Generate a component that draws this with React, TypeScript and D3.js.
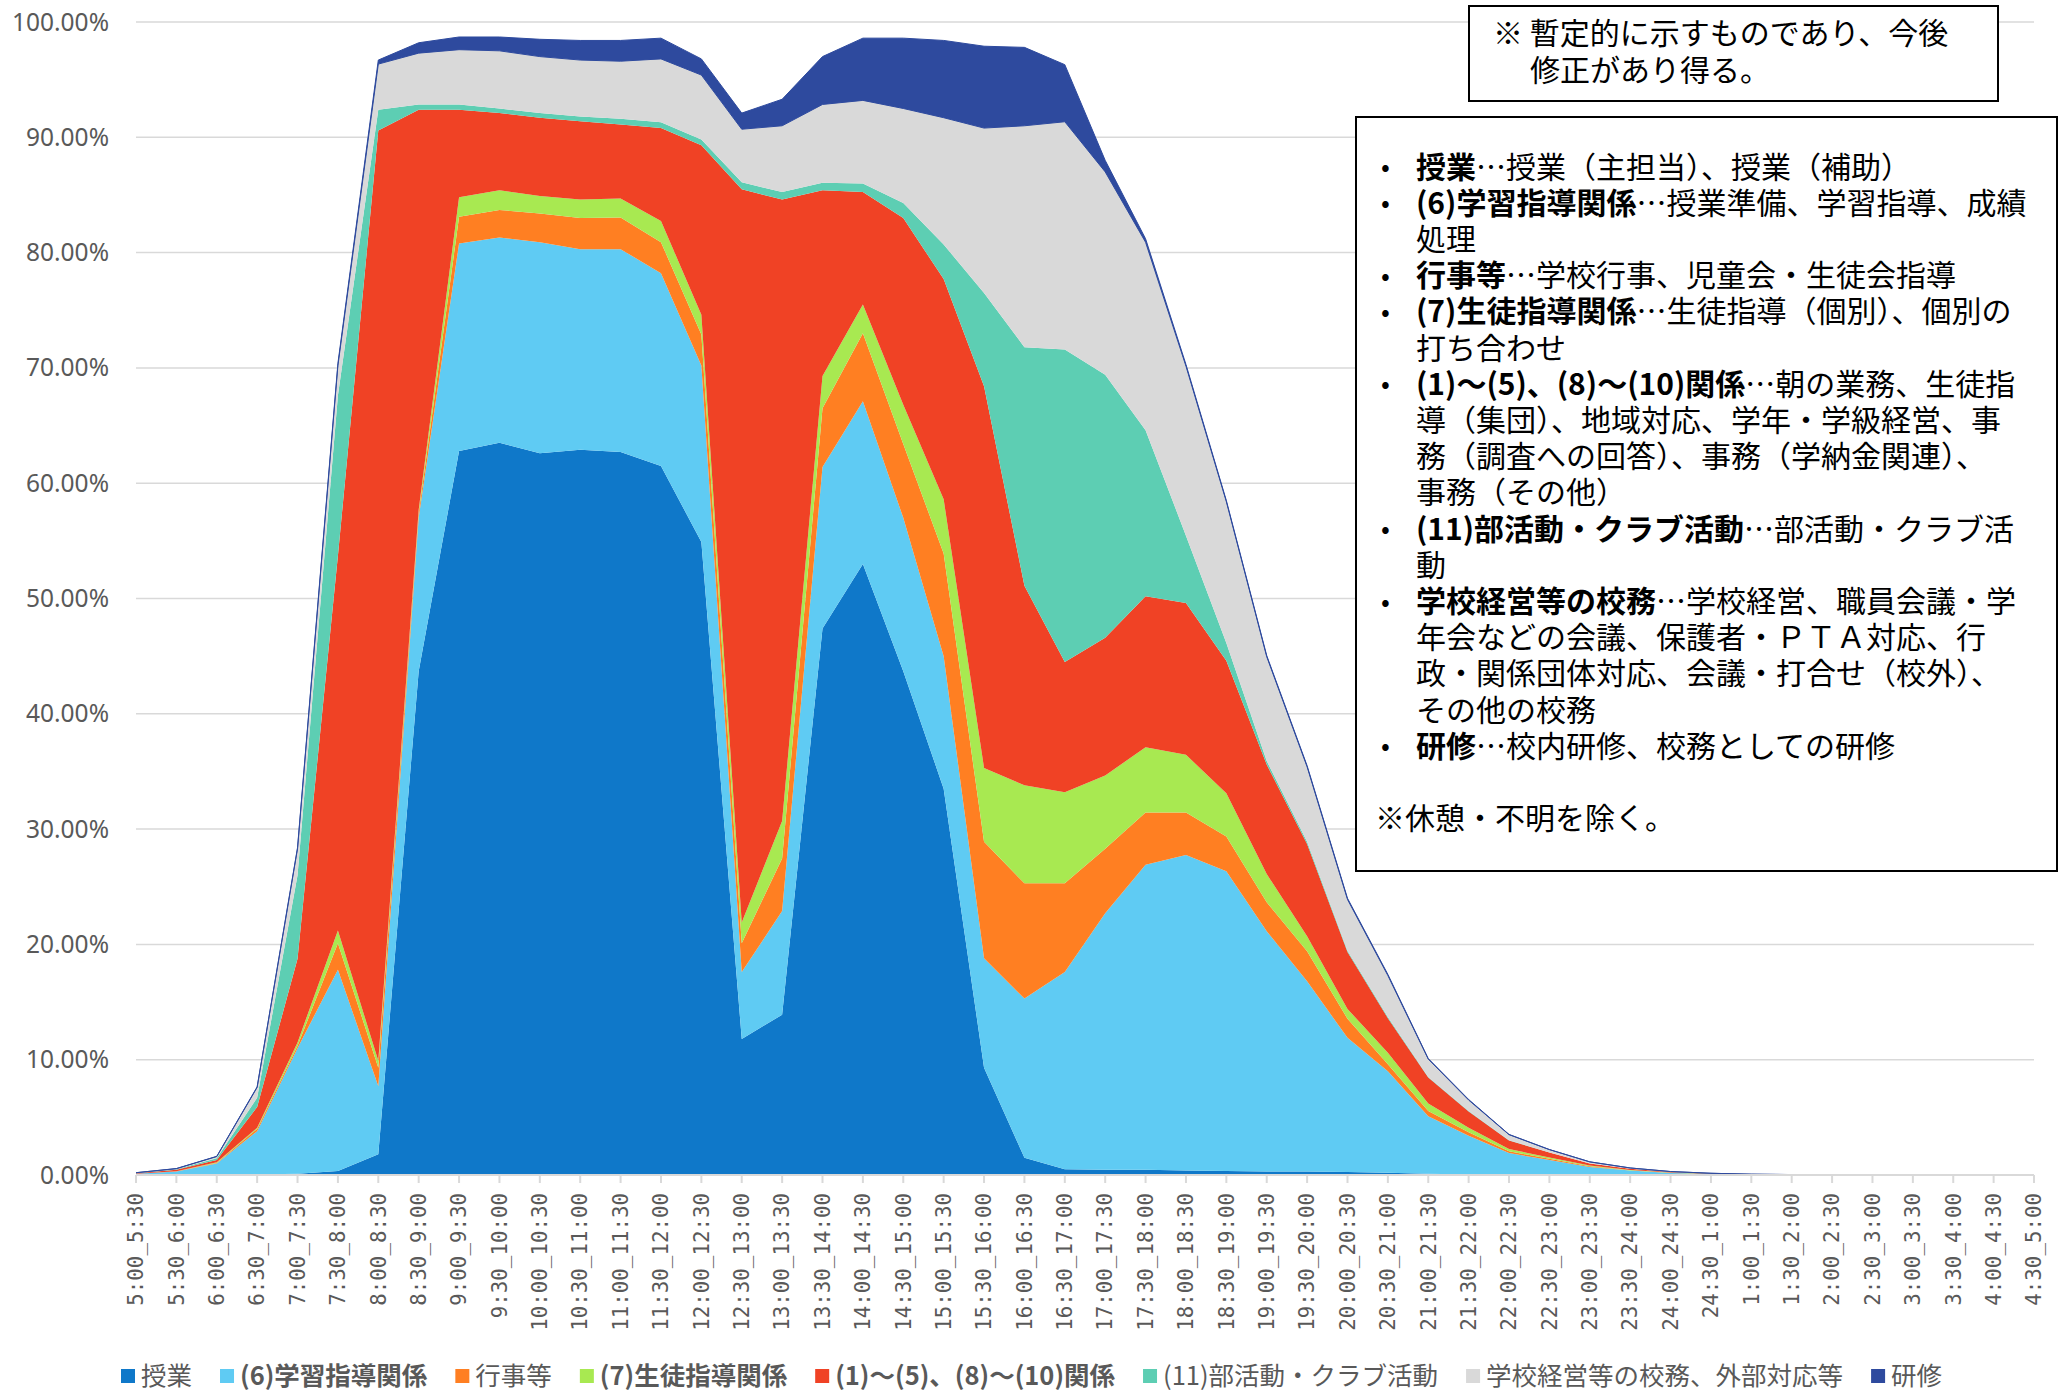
import React, { useEffect, useRef } from 'react';
import * as d3 from 'd3';

const timeSlots = [
  '5:00_5:30', '5:30_6:00', '6:00_6:30', '6:30_7:00', '7:00_7:30', '7:30_8:00',
  '8:00_8:30', '8:30_9:00', '9:00_9:30', '9:30_10:00', '10:00_10:30', '10:30_11:00',
  '11:00_11:30', '11:30_12:00', '12:00_12:30', '12:30_13:00', '13:00_13:30', '13:30_14:00',
  '14:00_14:30', '14:30_15:00', '15:00_15:30', '15:30_16:00', '16:00_16:30', '16:30_17:00',
  '17:00_17:30', '17:30_18:00', '18:00_18:30', '18:30_19:00', '19:00_19:30', '19:30_20:00',
  '20:00_20:30', '20:30_21:00', '21:00_21:30', '21:30_22:00', '22:00_22:30', '22:30_23:00',
  '23:00_23:30', '23:30_24:00', '24:00_24:30', '24:30_1:00', '1:00_1:30', '1:30_2:00',
  '2:00_2:30', '2:30_3:00', '3:00_3:30', '3:30_4:00', '4:00_4:30', '4:30_5:00'
];

// percentages per time slot
const jugyo = [0, 0, 0.02, 0.05, 0.1, 0.35, 1.8, 43.7, 62.8, 63.5, 62.6, 62.9, 62.7, 61.5, 54.9, 11.8, 13.9, 47.4, 53.0, 43.7, 33.5, 9.3, 1.5, 0.5, 0.45, 0.45, 0.4, 0.35, 0.3, 0.3, 0.25, 0.2, 0.1, 0.05, 0.02, 0.01, 0, 0, 0, 0, 0, 0, 0, 0, 0, 0, 0, 0];
const gakushu = [0.1, 0.3, 0.98, 3.75, 10.9, 17.45, 5.9, 13.3, 18.0, 17.8, 18.3, 17.4, 17.6, 16.7, 15.3, 5.8, 9.0, 14.0, 14.1, 13.3, 11.5, 9.5, 13.8, 17.1, 22.25, 26.45, 27.35, 26.0, 20.85, 16.5, 11.65, 8.8, 5.0, 3.35, 1.88, 1.29, 0.7, 0.38, 0.18, 0.09, 0.04, 0.02, 0.01, 0.01, 0.005, 0, 0, 0];
const gyoji = [0, 0.02, 0.05, 0.2, 0.2, 2.3, 1.6, 0.4, 2.3, 2.4, 2.5, 2.7, 2.75, 2.7, 2.7, 2.5, 4.55, 5.1, 5.9, 6.4, 8.9, 10.1, 10.0, 7.7, 5.6, 4.55, 3.7, 3.0, 2.5, 2.6, 1.65, 0.6, 0.45, 0.3, 0.15, 0.12, 0.05, 0.02, 0.01, 0, 0, 0, 0, 0, 0, 0, 0, 0];
const seito = [0, 0.01, 0.05, 0.1, 0.3, 1.1, 0.6, 0.3, 1.7, 1.7, 1.5, 1.6, 1.65, 1.85, 1.7, 1.8, 3.25, 2.8, 2.5, 3.4, 4.7, 6.4, 8.5, 7.9, 6.35, 5.65, 5.0, 3.75, 2.45, 1.3, 0.85, 1.0, 0.65, 0.4, 0.2, 0.1, 0.07, 0.04, 0.02, 0.01, 0, 0, 0, 0, 0, 0, 0, 0];
const sonota = [0.05, 0.12, 0.2, 1.8, 7.25, 32.5, 80.7, 34.7, 7.6, 6.7, 6.8, 6.8, 6.4, 8.05, 14.7, 63.6, 53.9, 16.1, 9.75, 16.2, 19.1, 33.1, 17.3, 11.3, 11.95, 13.1, 13.15, 11.5, 9.5, 8.0, 4.95, 3.0, 2.25, 1.4, 0.75, 0.43, 0.18, 0.11, 0.06, 0.03, 0.02, 0.01, 0.005, 0, 0, 0, 0, 0];
const bukatsu = [0.03, 0.05, 0.15, 0.8, 7.25, 13.9, 1.8, 0.45, 0.45, 0.4, 0.4, 0.4, 0.5, 0.5, 0.5, 0.6, 0.65, 0.65, 0.75, 1.3, 3.0, 8.1, 20.7, 27.1, 22.8, 14.4, 5.85, 1.55, 0.3, 0.2, 0.1, 0.1, 0.05, 0.05, 0.02, 0.01, 0, 0, 0, 0, 0, 0, 0, 0, 0, 0, 0, 0];
const komu = [0.02, 0.05, 0.15, 0.9, 2.3, 2.6, 3.95, 4.45, 4.75, 5.0, 4.9, 4.9, 5.0, 5.5, 5.6, 4.6, 5.75, 6.8, 7.2, 8.2, 11.0, 14.3, 19.2, 19.75, 17.6, 16.3, 14.7, 12.25, 9.05, 6.5, 4.45, 3.6, 1.55, 0.95, 0.48, 0.24, 0.14, 0.06, 0.03, 0.02, 0.01, 0.01, 0.005, 0, 0, 0, 0, 0];
const kenshu = [0, 0.01, 0.02, 0.05, 0.1, 0.2, 0.35, 0.9, 1.1, 1.2, 1.5, 1.7, 1.8, 1.8, 1.4, 1.4, 2.3, 4.15, 5.4, 6.1, 6.7, 7.1, 6.8, 4.95, 1.0, 0.3, 0.15, 0.1, 0.1, 0.1, 0.1, 0.1, 0.05, 0.05, 0.02, 0.01, 0, 0, 0, 0, 0, 0, 0, 0, 0, 0, 0, 0];

const seriesNames = ['授業', '(6)学習指導関係', '行事等', '(7)生徒指導関係', '(1)～(5)、(8)～(10)関係', '(11)部活動・クラブ活動', '学校経営等の校務、外部対応等', '研修'];
const seriesValues = [jugyo, gakushu, gyoji, seito, sonota, bukatsu, komu, kenshu];
const seriesColors = ['#0F78C9', '#5FCBF3', '#FF7F22', '#A8E951', '#F04225', '#5DCEB3', '#D9D9D9', '#2E4A9E'];
const boldInLegend = [false, true, false, true, true, false, false, false];

const yTicks = [0, 10, 20, 30, 40, 50, 60, 70, 80, 90, 100];

const noteLines = ['※ 暫定的に示すものであり、今後', '修正があり得る。'];

// [bullet?, bold part, normal part]
const definitionLines: [boolean, string, string][] = [
  [true, '授業', '…授業（主担当）、授業（補助）'],
  [true, '(6)学習指導関係', '…授業準備、学習指導、成績'],
  [false, '', '処理'],
  [true, '行事等', '…学校行事、児童会・生徒会指導'],
  [true, '(7)生徒指導関係', '…生徒指導（個別）、個別の'],
  [false, '', '打ち合わせ'],
  [true, '(1)～(5)、(8)～(10)関係', '…朝の業務、生徒指'],
  [false, '', '導（集団）、地域対応、学年・学級経営、事'],
  [false, '', '務（調査への回答）、事務（学納金関連）、'],
  [false, '', '事務（その他）'],
  [true, '(11)部活動・クラブ活動', '…部活動・クラブ活'],
  [false, '', '動'],
  [true, '学校経営等の校務', '…学校経営、職員会議・学'],
  [false, '', '年会などの会議、保護者・ＰＴＡ対応、行'],
  [false, '', '政・関係団体対応、会議・打合せ（校外）、'],
  [false, '', 'その他の校務'],
  [true, '研修', '…校内研修、校務としての研修'],
];
const footNote = '※休憩・不明を除く。';

const W = 2062;
const H = 1391;
const JP = '"Noto Sans CJK JP", "Noto Sans", sans-serif';

export default function App() {
  const svgRef = useRef<SVGSVGElement>(null);

  useEffect(() => {
    if (!svgRef.current) return;
    const svg = d3.select(svgRef.current);
    svg.selectAll('*').remove();

    const left = 136;
    const right = 2034;
    const top = 22;
    const bottom = 1175;

    const x = d3.scalePoint<string>().domain(timeSlots).range([left, right]);
    const y = d3.scaleLinear().domain([0, 100]).range([bottom, top]);

    // gridlines
    svg.append('g')
      .selectAll('line')
      .data(yTicks.slice(1))
      .enter()
      .append('line')
      .attr('x1', left)
      .attr('x2', right)
      .attr('y1', d => y(d))
      .attr('y2', d => y(d))
      .attr('stroke', '#D9D9D9')
      .attr('stroke-width', 1.5);

    // y labels
    svg.append('g')
      .selectAll('text')
      .data(yTicks)
      .enter()
      .append('text')
      .attr('x', 109)
      .attr('y', d => y(d))
      .attr('dy', '0.35em')
      .attr('text-anchor', 'end')
      .style('font-family', '"Noto Sans", sans-serif')
      .style('font-size', '24.5px')
      .style('fill', '#595959')
      .text(d => d.toFixed(2) + '%');

    // stacked areas
    const table = timeSlots.map((slot, i) => {
      const row: Record<string, number | string> = { slot };
      seriesNames.forEach((name, k) => { row[name] = seriesValues[k][i]; });
      return row;
    });
    const stacked = d3.stack<Record<string, number | string>>()
      .keys(seriesNames)(table);

    const area = d3.area<d3.SeriesPoint<Record<string, number | string>>>()
      .x(d => x(d.data.slot as string) as number)
      .y0(d => y(d[0]))
      .y1(d => y(d[1]));

    svg.append('g')
      .selectAll('path')
      .data(stacked)
      .enter()
      .append('path')
      .attr('d', d => area(d) || '')
      .attr('fill', (_, i) => seriesColors[i])
      .attr('stroke', (_, i) => (i === seriesColors.length - 1 ? seriesColors[i] : 'none'))
      .attr('stroke-width', 1);

    // x axis
    const axis = svg.append('g');
    axis.append('line')
      .attr('x1', left)
      .attr('x2', right)
      .attr('y1', bottom)
      .attr('y2', bottom)
      .attr('stroke', '#D9D9D9')
      .attr('stroke-width', 2);
    axis.selectAll('.tick')
      .data(timeSlots)
      .enter()
      .append('line')
      .attr('class', 'tick')
      .attr('x1', d => x(d) as number)
      .attr('x2', d => x(d) as number)
      .attr('y1', bottom)
      .attr('y2', bottom + 8)
      .attr('stroke', '#D9D9D9')
      .attr('stroke-width', 2);
    axis.selectAll('.lbl')
      .data(timeSlots)
      .enter()
      .append('text')
      .attr('class', 'lbl')
      .attr('transform', d => `translate(${(x(d) as number)},1193) rotate(-90)`)
      .attr('dy', '0.35em')
      .attr('text-anchor', 'end')
      .style('font-family', '"DejaVu Sans Mono", monospace')
      .style('font-size', '20.8px')
      .style('fill', '#595959')
      .text(d => d);

    // legend
    const legend = svg.append('g');
    let lx = 121;
    const ly = 1376;
    seriesNames.forEach((name, i) => {
      legend.append('rect')
        .attr('x', lx)
        .attr('y', ly - 7)
        .attr('width', 14)
        .attr('height', 14)
        .attr('fill', seriesColors[i]);
      const t = legend.append('text')
        .attr('x', lx + 20)
        .attr('y', ly)
        .attr('dy', '0.35em')
        .style('font-family', JP)
        .style('font-size', '25.5px')
        .style('font-weight', boldInLegend[i] ? 'bold' : 'normal')
        .style('fill', '#595959')
        .text(name);
      const w = (t.node() as SVGTextElement).getComputedTextLength();
      lx = lx + 20 + w + 28;
    });

    // note box
    const note = svg.append('g');
    note.append('rect')
      .attr('x', 1469)
      .attr('y', 6)
      .attr('width', 529)
      .attr('height', 95)
      .attr('fill', '#FFFFFF')
      .attr('stroke', '#000000')
      .attr('stroke-width', 2);
    note.selectAll('text')
      .data(noteLines)
      .enter()
      .append('text')
      .attr('x', (_, i) => (i === 0 ? 1493 : 1530))
      .attr('y', (_, i) => 44 + i * 37)
      .style('font-family', JP)
      .style('font-size', '30px')
      .style('fill', '#000')
      .text(d => d);

    // definitions box
    const defs = svg.append('g');
    defs.append('rect')
      .attr('x', 1356)
      .attr('y', 117)
      .attr('width', 701)
      .attr('height', 754)
      .attr('fill', '#FFFFFF')
      .attr('stroke', '#000000')
      .attr('stroke-width', 2);
    const lineH = 36.2;
    definitionLines.forEach(([bullet, boldPart, rest], k) => {
      const cy = 167 + lineH * k;
      if (bullet) {
        defs.append('text')
          .attr('x', 1381)
          .attr('y', cy)
          .attr('dy', '0.35em')
          .style('font-family', JP)
          .style('font-size', '26px')
          .style('fill', '#000')
          .text('•');
      }
      const t = defs.append('text')
        .attr('x', 1416)
        .attr('y', cy)
        .attr('dy', '0.35em')
        .style('font-family', JP)
        .style('font-size', '30px')
        .style('fill', '#000');
      if (boldPart) {
        t.append('tspan').style('font-weight', 'bold').text(boldPart);
      }
      t.append('tspan').text(rest);
    });
    defs.append('text')
      .attr('x', 1375)
      .attr('y', 167 + lineH * 18)
      .attr('dy', '0.35em')
      .style('font-family', JP)
      .style('font-size', '30px')
      .style('fill', '#000')
      .text(footNote);
  }, []);

  return (
    <svg
      ref={svgRef}
      width={W}
      height={H}
      style={{ position: 'absolute', left: 0, top: 0, display: 'block', background: '#FFFFFF' }}
    />
  );
}
